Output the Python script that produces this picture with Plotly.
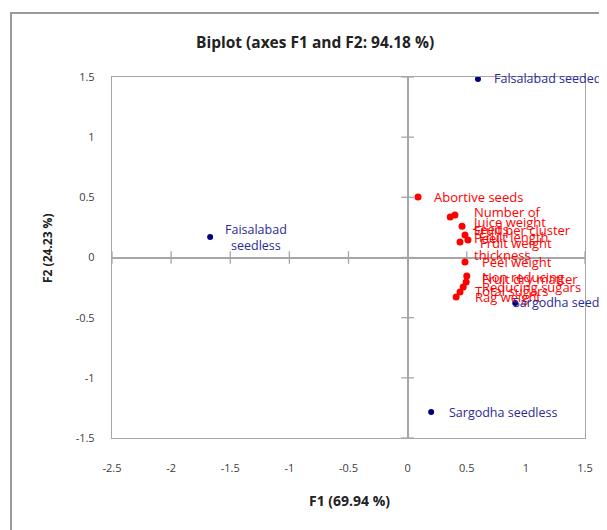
import plotly.graph_objects as go

# ---------------- data ----------------
obs_names = ["Falsalabad seeded", "Faisalabad<br>seedless", "Sargodha seeded", "Sargodha seedless"]
obs_f1 = [0.595, -1.67, 0.91, 0.199]
obs_f2 = [1.484, 0.17, -0.378, -1.284]

var_names = ["Abortive seeds", "Number of<br>seeds", "Juice weight", "Fruit per cluster",
             "Fruit length", "Peel<br>thickness", "Fruit weight", "Peel weight",
             "Non reducing", "Fruit dry matter", "Reducing sugars", "Total sugars", "Rag weight"]
var_f1 = [0.088, 0.36, 0.40, 0.46, 0.485, 0.443, 0.51, 0.485, 0.50, 0.495, 0.47, 0.443, 0.41]
var_f2 = [0.503, 0.337, 0.353, 0.26, 0.187, 0.129, 0.145, -0.037, -0.154, -0.204, -0.245, -0.287, -0.328]

tick_vals_x = [-2.5, -2, -1.5, -1, -0.5, 0, 0.5, 1, 1.5]
tick_text_x = ["-2.5", "-2", "-1.5", "-1", "-0.5", "0", "0.5", "1", "1.5"]
tick_vals_y = [-1.5, -1, -0.5, 0, 0.5, 1, 1.5]
tick_text_y = ["-1.5", "-1", "-0.5", "0", "0.5", "1", "1.5"]

# ---------------- styles ----------------
FONT = "Open Sans"
GRAY = "#a6a6a6"
RED = "#ff0000"
NAVY = "#000080"
NAVY_TXT = "#2a2a96"

# label offsets (pixels): (xshift, yshift)
obs_off = [(14, 0), (46, 0), (-4, 0), (16, 0)]
var_off = [(14, 0), (22, -3.5), (15, -7), (10, -4), (12, -2), (12, -4.5), (10, -3), (15, 0),
           (13, -1), (14, 3), (17, 0), (13, 1), (17, 0)]

fig = go.Figure()

# tick crosses on the zero lines
fig.add_trace(go.Scatter(x=tick_vals_x, y=[0] * len(tick_vals_x), mode="markers",
                         marker=dict(symbol="line-ns", size=9, line=dict(color=GRAY, width=1.3)),
                         hoverinfo="skip", showlegend=False, cliponaxis=False))
fig.add_trace(go.Scatter(x=[0] * len(tick_vals_y), y=tick_vals_y, mode="markers",
                         marker=dict(symbol="line-ew", size=9, line=dict(color=GRAY, width=1.3)),
                         hoverinfo="skip", showlegend=False, cliponaxis=False))

fig.add_trace(go.Scatter(x=var_f1, y=var_f2, mode="markers",
                         marker=dict(color=RED, size=7), showlegend=False, cliponaxis=False))
fig.add_trace(go.Scatter(x=obs_f1, y=obs_f2, mode="markers",
                         marker=dict(color=NAVY, size=6), showlegend=False, cliponaxis=False))

annotations = []
for name, x, y, (dx, dy) in zip(var_names, var_f1, var_f2, var_off):
    annotations.append(dict(x=x, y=y, xref="x", yref="y", text=name, showarrow=False,
                            xanchor="left", yanchor="middle", xshift=dx, yshift=dy,
                            font=dict(family=FONT, size=13, color=RED), align="left"))
for name, x, y, (dx, dy) in zip(obs_names, obs_f1, obs_f2, obs_off):
    centered = "<br>" in name
    annotations.append(dict(x=x, y=y, xref="x", yref="y", text=name, showarrow=False,
                            xanchor="center" if centered else "left", yanchor="middle",
                            xshift=dx, yshift=dy,
                            font=dict(family=FONT, size=12.5, color=NAVY_TXT),
                            align="center" if centered else "left"))

# axis titles and chart title (positions relative to the plot area)
annotations.append(dict(x=(349 - 112) / 473, y=(438 - 501) / 361, xref="paper", yref="paper",
                        text="<b>F1 (69.94 %)</b>", showarrow=False, xanchor="center", yanchor="middle",
                        font=dict(family=FONT, size=14, color="#222222")))
annotations.append(dict(x=(47 - 112) / 473, y=(438 - 248) / 361, xref="paper", yref="paper",
                        text="<b>F2 (24.23 %)</b>", showarrow=False, xanchor="center", yanchor="middle",
                        textangle=-90, font=dict(family=FONT, size=12, color="#222222")))
annotations.append(dict(x=(315 - 112) / 473, y=(438 - 42) / 361, xref="paper", yref="paper",
                        text="<b>Biplot (axes F1 and F2: 94.18 %)</b>", showarrow=False,
                        xanchor="center", yanchor="middle",
                        font=dict(family=FONT, size=15.5, color="#222222")))

shapes = [dict(type="rect", xref="paper", yref="paper",
               x0=(11 - 112) / 473, x1=(800 - 112) / 473,
               y0=(438 - 700) / 361, y1=(438 - 13) / 361,
               line=dict(color="#9a9a9a", width=2), layer="below")]

# the page body adds an 8px offset, so the figure is shifted accordingly
fig.update_layout(
    width=599, height=522,
    margin=dict(l=104, r=22, t=69, b=92),
    paper_bgcolor="white", plot_bgcolor="white",
    showlegend=False,
    annotations=annotations, shapes=shapes,
    xaxis=dict(range=[-2.5, 1.5], tickvals=tick_vals_x, ticktext=tick_text_x,
               showgrid=False, zeroline=True, zerolinecolor=GRAY, zerolinewidth=1.5,
               showline=True, mirror=True, linecolor=GRAY, linewidth=1.3,
               ticks="", ticklabelstandoff=20,
               tickfont=dict(family=FONT, size=11, color="#404040")),
    yaxis=dict(range=[-1.5, 1.5], tickvals=tick_vals_y, ticktext=tick_text_y,
               showgrid=False, zeroline=True, zerolinecolor=GRAY, zerolinewidth=1.5,
               showline=True, mirror=True, linecolor=GRAY, linewidth=1.3,
               ticks="", ticklabelstandoff=14,
               tickfont=dict(family=FONT, size=11, color="#404040")),
)

fig.write_html("out.html")
